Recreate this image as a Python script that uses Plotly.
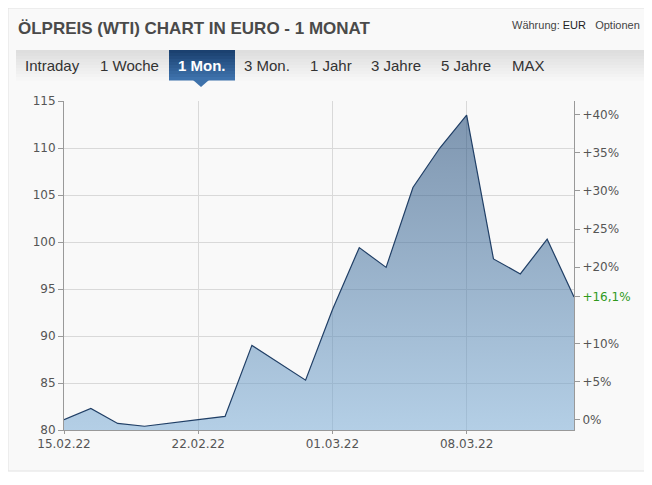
import plotly.graph_objects as go

# Data (one point per trading day, None = no quote)
dates = ["15.02.22", "16.02.22", "17.02.22", "18.02.22", "21.02.22", "22.02.22",
         "23.02.22", "24.02.22", "25.02.22", "28.02.22", "01.03.22", "02.03.22",
         "03.03.22", "04.03.22", "07.03.22", "08.03.22", "09.03.22", "10.03.22",
         "11.03.22", "14.03.22"]
prices = [81.1, 82.3, 80.7, 80.4, None, 81.1, 81.45, 89.0, None, 85.3, 92.8, 99.4,
          97.3, 105.8, 110.0, 113.5, 98.2, 96.6, 100.3, 94.16]
x_ticks = ["15.02.22", "22.02.22", "01.03.22", "08.03.22"]
y_ticks = [80, 85, 90, 95, 100, 105, 110, 115]
pct_ticks = [0, 5, 10, 20, 25, 30, 35, 40]
tabs = ["Intraday", "1 Woche", "1 Mon.", "3 Mon.", "1 Jahr", "3 Jahre", "5 Jahre", "MAX"]
active_tab = "1 Mon."

title = "ÖLPREIS (WTI) CHART IN EURO - 1 MONAT"

# page geometry in screen pixels; the page body adds an 8px offset
OFF = 8
W, H = 652 - OFF, 485 - OFF
PLOT_X0, PLOT_X1, PLOT_Y0, PLOT_Y1 = 64, 574, 101, 430
L, R = PLOT_X0 - OFF, W - (PLOT_X1 - OFF)
T, B = PLOT_Y0 - OFF, H - (PLOT_Y1 - OFF)
PW, PH = PLOT_X1 - PLOT_X0, PLOT_Y1 - PLOT_Y0
TAB_X = [52, 129, 202, 267, 331, 396, 466, 528]


def px(x):
    return (x - PLOT_X0) / PW


def py(y):
    return (PLOT_Y1 - y) / PH


y_range = [80, 115]
base = prices[0]
pct_range = [(y_range[0] / base - 1) * 100, (y_range[1] / base - 1) * 100]
last_pct = (prices[-1] / base - 1) * 100
last_label = "+" + f"{last_pct:.1f}".replace(".", ",") + "%"

pct_vals = pct_ticks + [last_pct]
pct_text = [("+%d%%" % v) if v else "0%" for v in pct_ticks]
pct_text.append('<span style="color:#2f9a1c">%s</span>' % last_label)

fig = go.Figure()

fig.add_trace(go.Scatter(
    x=dates, y=prices, mode="lines", connectgaps=True,
    line=dict(color="#203f66", width=1.2),
    fill="tozeroy",
    fillgradient=dict(type="vertical", start=80, stop=115,
                      colorscale=[[0, "rgba(123,172,214,0.55)"],
                                  [1, "rgba(23,65,112,0.55)"]]),
    showlegend=False, hoverinfo="x+y",
))
# helper trace so the percent axis is drawn
fig.add_trace(go.Scatter(
    x=[dates[0]], y=[0], yaxis="y2", mode="markers",
    marker=dict(opacity=0), showlegend=False, hoverinfo="skip",
))

shapes = []
# card
shapes.append(dict(type="rect", xref="paper", yref="paper",
                   x0=px(OFF), x1=px(700), y0=py(OFF), y1=py(471),
                   line=dict(color="#e2e2e2", width=1), fillcolor="#f9f9f9", layer="below"))
# tab bar, light grey gradient
n = 10
for i in range(n):
    y0 = 50 + i * 30 / n
    g = int(222 + (246 - 222) * i / (n - 1))
    shapes.append(dict(type="rect", xref="paper", yref="paper",
                       x0=px(16), x1=px(700), y0=py(y0), y1=py(y0 + 30 / n + 0.5),
                       line=dict(width=0), fillcolor="rgb(%d,%d,%d)" % (g, g, g), layer="below"))
# active tab, blue gradient
for i in range(n):
    y0 = 50 + i * 30 / n
    f = i / (n - 1)
    c = (int(27 + (62 - 27) * f), int(65 + (114 - 65) * f), int(112 + (172 - 112) * f))
    shapes.append(dict(type="rect", xref="paper", yref="paper",
                       x0=px(169), x1=px(235), y0=py(y0), y1=py(y0 + 30 / n + 0.5),
                       line=dict(width=0), fillcolor="rgb(%d,%d,%d)" % c, layer="below"))
shapes.append(dict(type="path", xref="paper", yref="paper",
                   path="M %f,%f L %f,%f L %f,%f Z" % (px(193), py(80), px(209), py(80), px(201), py(87)),
                   line=dict(width=0), fillcolor="#3e72ab", layer="below"))

annotations = [
    dict(text="<b>%s</b>" % title, xref="paper", yref="paper", x=px(16), y=py(29),
         xanchor="left", yanchor="middle", showarrow=False,
         font=dict(family="Liberation Sans, Arial", size=17, color="#4a4a4a")),
    dict(text="Währung: <span style='color:#222'>EUR</span>   Optionen", xref="paper", yref="paper",
         x=px(642), y=py(25), xanchor="right", yanchor="middle", showarrow=False,
         font=dict(family="Liberation Sans, Arial", size=11, color="#444")),
]
for name, cx in zip(tabs, TAB_X):
    active = name == active_tab
    annotations.append(dict(
        text="<b>%s</b>" % name if active else name, xref="paper", yref="paper",
        x=px(cx), y=py(65), xanchor="center", yanchor="middle", showarrow=False,
        font=dict(family="Liberation Sans, Arial", size=15,
                  color="white" if active else "#333")))

axis_font = dict(family="DejaVu Sans, Verdana", size=12, color="#555")

fig.update_layout(
    width=W, height=H,
    margin=dict(l=L, r=R, t=T, b=B),
    paper_bgcolor="white", plot_bgcolor="#f9f9f9",
    shapes=shapes, annotations=annotations,
    xaxis=dict(type="category", range=[0, len(dates) - 1],
               tickvals=x_ticks, ticktext=x_ticks,
               showgrid=True, gridcolor="#d9d9d9", gridwidth=1,
               showline=True, linecolor="#999", linewidth=1,
               ticks="outside", ticklen=3, tickcolor="#999",
               tickfont=axis_font, zeroline=False),
    yaxis=dict(range=y_range, tickvals=y_ticks,
               showgrid=True, gridcolor="#d9d9d9", gridwidth=1,
               showline=True, linecolor="#999", linewidth=1,
               ticks="outside", ticklen=5, tickcolor="#999",
               tickfont=axis_font, zeroline=False),
    yaxis2=dict(overlaying="y", side="right", range=pct_range,
                tickvals=pct_vals, ticktext=pct_text,
                showgrid=False, showline=True, linecolor="#999", linewidth=1,
                ticks="outside", ticklen=5, tickcolor="#999",
                tickfont=axis_font, zeroline=False),
    hovermode="x",
)

fig.write_html("out.html")
